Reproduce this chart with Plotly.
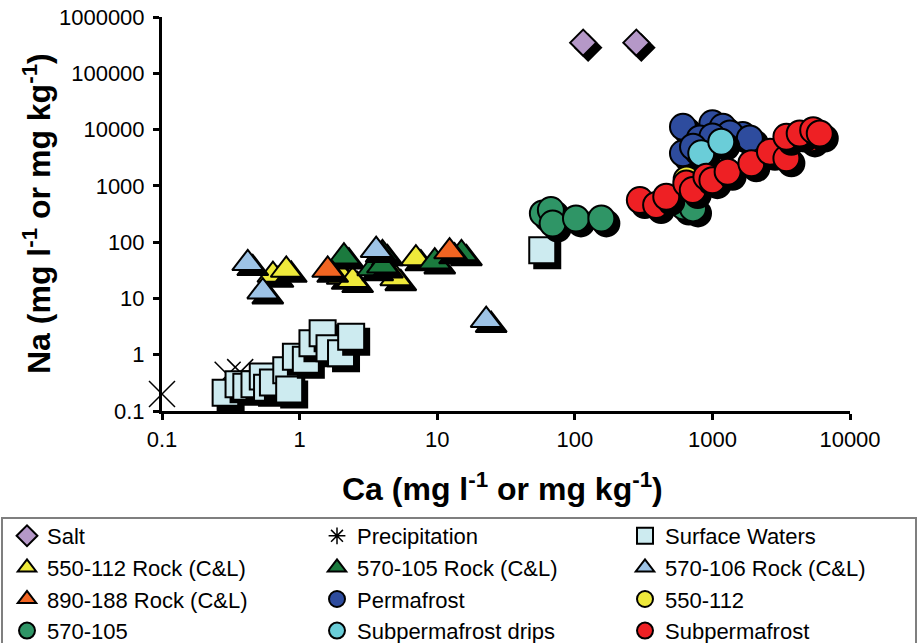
import plotly.graph_objects as go

# ---------------- data (Ca, Na) ----------------
salt_ca = [115, 280]
salt_na = [350000, 350000]

precip_ca = [0.1, 0.30, 0.37]
precip_na = [0.2, 0.44, 0.49]

sw_ca = [0.29, 0.36, 0.41, 0.47, 0.54, 0.58, 0.64, 0.80, 0.84, 0.94, 1.11, 1.24, 1.47, 1.65, 2.0, 2.37, 58]
sw_na = [0.21, 0.30, 0.27, 0.30, 0.41, 0.26, 0.32, 0.53, 0.24, 0.92, 0.81, 1.6, 2.4, 1.3, 1.06, 2.09, 72]

r550_ca = [0.64, 0.80, 2.04, 2.43, 5.0, 7.0]
r550_na = [26, 32, 24, 21, 22.7, 51]

r570_105_ca = [2.1, 3.4, 4.0, 4.0, 9.6, 15]
r570_105_na = [55, 34, 63, 38, 45, 63]

r570_106_ca = [0.42, 0.54, 3.6, 22.7]
r570_106_na = [42, 13.2, 72, 4.1]

r890_ca = [1.6, 12.3]
r890_na = [32, 68]

perm_ca = [611, 1000, 1190, 810, 1660, 611, 1340, 1000, 723, 1870]
perm_na = [11200, 12900, 11200, 6950, 8000, 3780, 8530, 7500, 4950, 6950]

c550_ca = [650]
c550_na = [1300]

c570_ca = [58.6, 67, 69, 102, 156, 620, 723]
c570_na = [324, 372, 214, 264, 264, 430, 398]

drips_ca = [830, 1160]
drips_na = [3780, 6070]

sub_ca = [297, 390, 462, 646, 720, 904, 1000, 1290, 1920, 2620, 3450, 3450, 5120, 4310, 5400, 6030]
sub_na = [560, 457, 640, 1100, 842, 1450, 1260, 1780, 2520, 4030, 3090, 7440, 6950, 8520, 9770, 8520]

# ---------------- layout constants ----------------
W, H = 917, 643
ML, MR, MT, MB = 162, 67, 17, 232
PW, PH = W - ML - MR, H - MT - MB
XDEC = PW / 5.0   # px per decade on x
YDEC = PH / 7.0   # px per decade on y
SHADOW = 5        # px
SX = 10 ** (SHADOW / XDEC)
SY = 10 ** (-SHADOW / YDEC)

FONT = "Liberation Sans, Arial, sans-serif"
LEGENDS = ["legend", "legend2", "legend3"]

fig = go.Figure()
_count = [0]


def next_legend():
    name = LEGENDS[_count[0] % 3]
    _count[0] += 1
    return name


def add_series(name, xs, ys, symbol, color, size, shadow=True):
    X, Y, C = [], [], []
    for x, y in zip(xs, ys):
        if shadow:
            X.append(x * SX); Y.append(y * SY); C.append("black")
        X.append(x); Y.append(y); C.append(color)
    fig.add_trace(go.Scatter(
        x=X, y=Y, mode="markers", showlegend=False, hoverinfo="skip",
        cliponaxis=False,
        marker=dict(symbol=symbol, size=size, color=C,
                    line=dict(color="black", width=2))))
    fig.add_trace(go.Scatter(
        x=[None], y=[None], mode="markers", name=name, legend=next_legend(),
        marker=dict(symbol=symbol, size=size, color=color,
                    line=dict(color="black", width=2))))


add_series("Salt", salt_ca, salt_na, "diamond", "#B598C8", 20)
# precipitation (thin asterisk, no shadow)
fig.add_trace(go.Scatter(
    x=precip_ca, y=precip_na, mode="markers", showlegend=False, hoverinfo="skip",
    cliponaxis=False,
    marker=dict(symbol="x-thin-open", size=26, color="black",
                line=dict(color="black", width=1.5))))
fig.add_trace(go.Scatter(
    x=[None], y=[None], mode="markers", name="Precipitation", legend=next_legend(),
    marker=dict(symbol="asterisk-open", size=14, color="black",
                line=dict(color="black", width=1.5))))
add_series("Surface Waters", sw_ca, sw_na, "square", "#CDEBF0", 26)
add_series("550-112 Rock (C&L)", r550_ca, r550_na, "triangle-up", "#EEE93B", 27)
add_series("570-105 Rock (C&L)", r570_105_ca, r570_105_na, "triangle-up", "#1B7A3E", 27)
add_series("570-106 Rock (C&L)", r570_106_ca, r570_106_na, "triangle-up", "#9DC3E6", 27)
add_series("890-188 Rock (C&L)", r890_ca, r890_na, "triangle-up", "#F26522", 27)
add_series("Permafrost", perm_ca, perm_na, "circle", "#2E4C9E", 26)
add_series("550-112", c550_ca, c550_na, "circle", "#EEE93B", 26)
add_series("570-105", c570_ca, c570_na, "circle", "#2F9566", 26)
add_series("Subpermafrost drips", drips_ca, drips_na, "circle", "#6ACDD8", 26)
add_series("Subpermafrost", sub_ca, sub_na, "circle", "#EE2024", 26)

x_ticks = [0.1, 1, 10, 100, 1000, 10000]
x_text = ["0.1", "1", "10", "100", "1000", "10000"]
y_ticks = [0.1, 1, 10, 100, 1000, 10000, 100000, 1000000]
y_text = ["0.1", "1", "10", "100", "1000", "10000", "100000", "1000000"]

axis_common = dict(
    showline=True, linecolor="black", linewidth=3, mirror=False,
    ticks="outside", ticklen=6, tickwidth=3, tickcolor="black",
    showgrid=False, zeroline=False,
    tickfont=dict(family=FONT, size=22, color="black"),
)

fig.update_xaxes(type="log", range=[-1, 4], tickvals=x_ticks, ticktext=x_text,
                 ticklabelstandoff=1, **axis_common)
fig.update_yaxes(type="log", range=[-1, 6], tickvals=y_ticks, ticktext=y_text,
                 ticklabelstandoff=4, **axis_common)

fig.add_annotation(
    text="Ca (mg l<sup>-1</sup> or mg kg<sup>-1</sup>)",
    xref="paper", yref="paper", x=(502 - ML) / PW, y=-(487 - (MT + PH)) / PH,
    xanchor="center", yanchor="middle", showarrow=False,
    font=dict(family=FONT, size=32, color="black", weight="bold"))
fig.add_annotation(
    text="Na (mg l<sup>-1</sup> or mg kg<sup>-1</sup>)",
    xref="paper", yref="paper", x=(37 - ML) / PW, y=0.5, textangle=-90,
    xanchor="center", yanchor="middle", showarrow=False,
    font=dict(family=FONT, size=32, color="black", weight="bold"))

# legend frame
fig.add_shape(type="rect", xref="paper", yref="paper",
              x0=(2 - ML) / PW, x1=(916 - ML) / PW,
              y0=-(700 - (MT + PH)) / PH, y1=-(518 - (MT + PH)) / PH,
              line=dict(color="#7F7F7F", width=2), fillcolor="rgba(0,0,0,0)")

legend_common = dict(
    orientation="v", xanchor="left", yanchor="top",
    y=-(515 - (MT + PH)) / PH,
    font=dict(family=FONT, size=22, color="black"),
    itemsizing="trace", itemwidth=30,
    bgcolor="rgba(0,0,0,0)", borderwidth=0, traceorder="normal",
)

fig.update_layout(
    width=W, height=H,
    margin=dict(l=ML, r=MR, t=MT, b=MB, autoexpand=False),
    paper_bgcolor="white", plot_bgcolor="white",
    showlegend=True,
    legend=dict(x=(7 - ML) / PW, **legend_common),
    legend2=dict(x=(317 - ML) / PW, **legend_common),
    legend3=dict(x=(625 - ML) / PW, **legend_common),
)

fig.write_html("out.html")
